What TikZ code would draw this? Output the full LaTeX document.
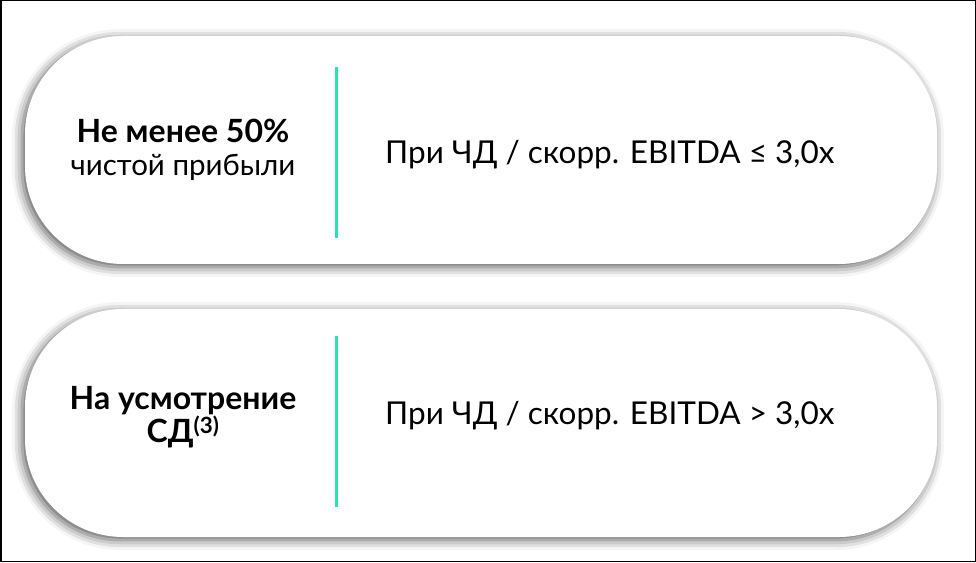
\documentclass[tikz,border=0pt]{standalone}
\usepackage{fontspec}
\setmainfont{Lato}
\usepackage{xcolor}
\usetikzlibrary{shadows.blur}
\definecolor{mint}{RGB}{36,228,178}

\begin{document}
\begin{tikzpicture}[x=1pt,y=1pt,
  pill/.style={fill=white, rectangle, rounded corners=98pt, minimum width=912pt, minimum height=228pt,
    blur shadow={shadow xshift=-3pt, shadow yshift=-3pt, shadow blur radius=10pt, shadow opacity=65}},
  sep/.style={draw=mint, line width=3pt},
  lefttxt/.style={align=center, font=\fontsize{32}{33}\selectfont, inner sep=0pt},
  righttxt/.style={anchor=base west, font=\fontsize{31.5}{33}\selectfont, inner sep=0pt}]

\def\LEFTX{183}
\def\SEPX{336}
\def\TEXTX{385}

\useasboundingbox (0,0) rectangle (976,562);
\draw[line width=1.5pt] (0.75,0.75) rectangle (975.25,561.25);

% rows
\node[pill] (rowA) at (481,412) {};
\node[pill] (rowB) at (481,139) {};

% dividers
\coordinate (sepAtop) at (\SEPX,495);
\coordinate (sepAbot) at (\SEPX,324);
\coordinate (sepBtop) at (\SEPX,226);
\coordinate (sepBbot) at (\SEPX,55);
\draw[sep] (sepAtop) -- (sepAbot);
\draw[sep] (sepBtop) -- (sepBbot);

% left texts
\node[lefttxt] (condA) at (\LEFTX,412) {\textbf{Не менее 50\%}\\{\fontsize{29.5}{33}\selectfont чистой прибыли}};
\node[lefttxt] (condB) at (\LEFTX,145) {\textbf{На усмотрение}\\\textbf{СД\textsuperscript{(3)}}};

% right texts
\node[righttxt] (ruleA) at (\TEXTX,398) {При ЧД / скорр. EBITDA ≤ 3,0x};
\node[righttxt] (ruleB) at (\TEXTX,137) {При ЧД / скорр. EBITDA > 3,0x};

\end{tikzpicture}
\end{document}
